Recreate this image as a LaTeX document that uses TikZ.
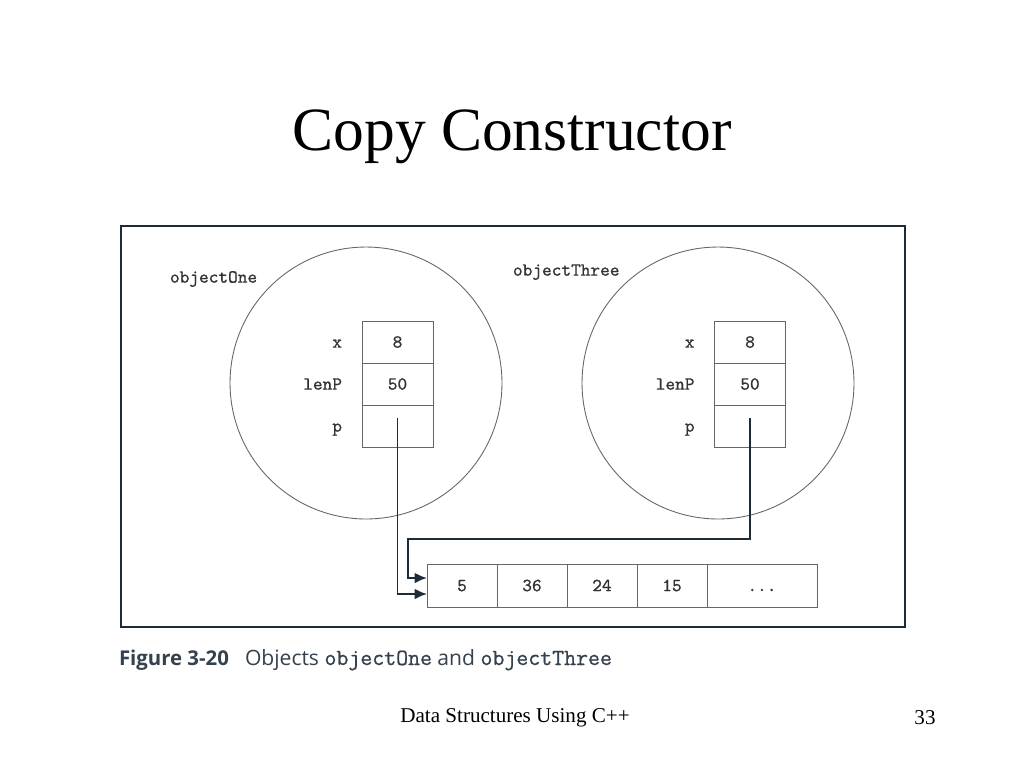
\documentclass[tikz,border=0pt]{standalone}
\usepackage{fontspec}
\setmainfont{Liberation Serif}
\setsansfont{Open Sans}
\setmonofont{Latin Modern Mono}[FakeBold=0.8]
\usetikzlibrary{arrows.meta,positioning,calc}

\begin{document}
\begin{tikzpicture}[x=0.02cm,y=-0.02cm,
      every node/.style={inner sep=0pt,outer sep=0pt},
      frame/.style={draw=navy,line width=1.2pt},
      obj/.style={draw=gray!80!black,line width=0.5pt},
      cell/.style={draw=gray!80!black,line width=0.5pt,minimum width=1.42cm,minimum height=0.84cm,
                   font=\ttfamily\fontsize{10.5}{12}\selectfont,text=black!80,
                   text height=1.6ex,text depth=0.2ex},
      elem/.style={cell,minimum width=1.4cm,minimum height=0.86cm},
      field/.style={anchor=east,font=\ttfamily\fontsize{10.5}{12}\selectfont,text=black!80,
                    text height=1.6ex,text depth=0.2ex},
      ptr/.style={draw=navy,line width=1.1pt,-{Latex[length=7pt,width=6pt]}}
     ]
  \definecolor{navy}{HTML}{1E2C3A}
  \useasboundingbox[fill=white] (0,0) rectangle (1024,768);

  \node (title) at (512,137) {\fontsize{35}{40}\selectfont Copy Constructor};
  \draw[frame] (121,226) rectangle (905,627);

  \draw[obj] (366,383) circle[radius=2.72cm];
  \draw[obj] (718,383) circle[radius=2.72cm];
  \node[field,anchor=west] (nameOne) at (170,277) {objectOne};
  \node[field,anchor=west] (nameThree) at (513,270) {objectThree};

  \node[cell] (x1) at (397.5,342) {8};
  \node[cell,below=0pt of x1] (len1) {50};
  \node[cell,below=0pt of len1] (p1) {};
  \node[cell] (x3) at (750,342) {8};
  \node[cell,below=0pt of x3] (len3) {50};
  \node[cell,below=0pt of len3] (p3) {};

  \foreach \c in {1,3}{
    \node[field] at ([xshift=-0.4cm]x\c.west) {x};
    \node[field] at ([xshift=-0.4cm]len\c.west) {lenP};
    \node[field] at ([xshift=-0.4cm]p\c.west) {p};
  }

  \node[elem] (a0) at (462,585.5) {5};
  \node[elem,right=0pt of a0] (a1) {36};
  \node[elem,right=0pt of a1] (a2) {24};
  \node[elem,right=0pt of a2] (a3) {15};
  \node[elem,right=0pt of a3,minimum width=2.2cm] (a4) {...};

  \coordinate (from1) at ([yshift=0.15cm]p1.center);
  \coordinate (from3) at ([yshift=0.15cm]p3.center);
  \coordinate (to1) at ([yshift=-0.17cm]a0.west);
  \coordinate (to3) at ([yshift=0.15cm]a0.west);
  \coordinate (bend3) at (408,539);
  \draw[ptr] (from1) |- (to1);
  \draw[ptr] (from3) |- (bend3) |- (to3);

  \node[anchor=base west,text=navy!90] (fig) at (119,665)
    {\sffamily\bfseries\fontsize{11.6}{13}\selectfont Figure 3-20};
  \node[anchor=base west,text=navy!90] (caption) at (245,665)
    {\fontsize{12}{13}\selectfont\sffamily Objects\ {\ttfamily\fontsize{13.2}{13}\selectfont objectOne} and\ {\ttfamily\fontsize{13.2}{13}\selectfont objectThree}};

  \node (footer) at (515,718) {\fontsize{12}{14}\selectfont Data Structures Using C++};
  \node (page) at (925,718) {\fontsize{12}{14}\selectfont 33};
\end{tikzpicture}
\end{document}
